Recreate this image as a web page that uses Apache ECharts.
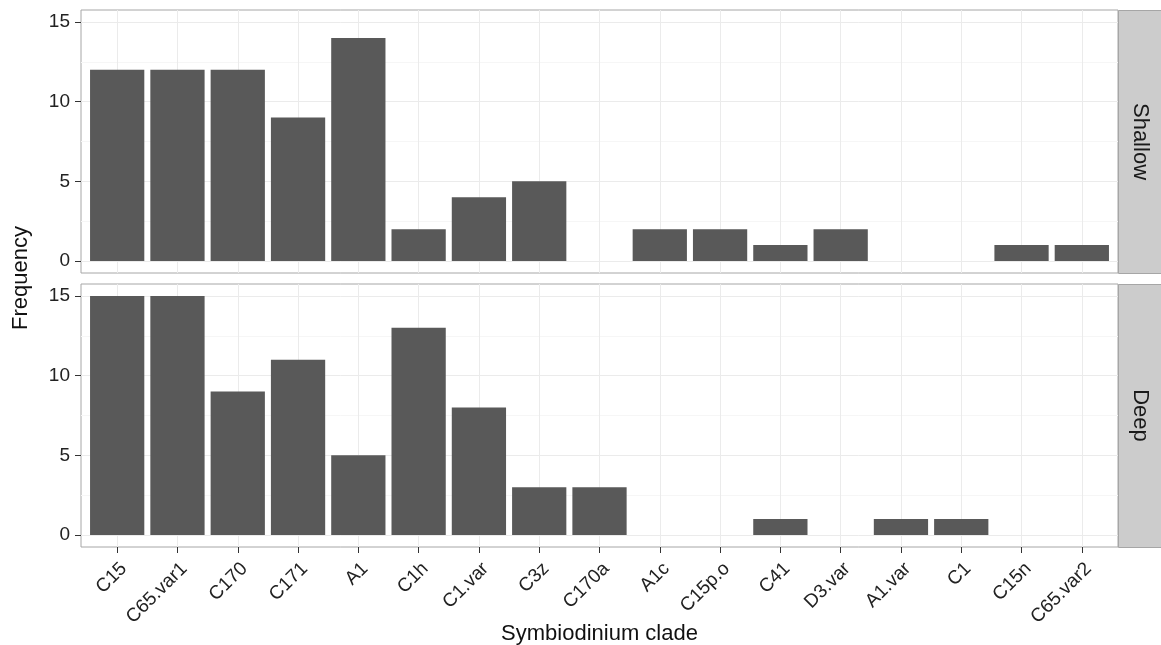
<!DOCTYPE html>
<html>
<head>
<meta charset="utf-8">
<script src="https://cdn.jsdelivr.net/npm/echarts@6/dist/echarts.min.js"></script>
<style>
html,body{margin:0;padding:0;background:#fff;}
#chart{width:1161px;height:645px;}
</style>
</head>
<body>
<div id="chart"></div>
<script>
const categories = ['C15','C65.var1','C170','C171','A1','C1h','C1.var','C3z','C170a','A1c','C15p.o','C41','D3.var','A1.var','C1','C15n','C65.var2'];
const shallow = [12,12,12,9,14,2,4,5,0,2,2,1,2,0,0,1,1];
const deep = [15,15,9,11,5,13,8,3,3,0,0,1,0,1,1,0,0];
const facets = ['Shallow','Deep'];
const yTicks = [0,5,10,15];
const yMinor = [2.5,7.5,12.5];
const xLabel = 'Symbiodinium clade';
const yLabel = 'Frequency';

const FONT = 'Liberation Sans';
const xPos = categories.map((c,i)=>i+1);
const panels = [shallow, deep];
const gridTops = [10, 284];
const H = 263, L = 81, W = 1037;

const grids = gridTops.map(t => ({left:L, top:t, width:W, height:H, show:true, outerBoundsMode:'none', containLabel:false,
  backgroundColor:'#fff', borderColor:'#a6a6a6', borderWidth:1}));

const xAxes = panels.map((p, gi) => ({
  type:'value', gridIndex:gi, min:0.4, max:17.6, position:'bottom',
  axisLine:{show:false, onZero:false},
  axisTick:{show: gi===1, customValues:xPos, length:6, lineStyle:{color:'#333'}},
  axisLabel:{show: gi===1, customValues:xPos, rotate:45, margin:12, verticalAlign:'top', fontFamily:FONT, fontSize:19, color:'#222',
    formatter: v => categories[Math.round(v)-1] || ''},
  splitLine:{show:true, lineStyle:{color:'#ebebeb', width:1}},
  name: gi===1 ? xLabel : '', nameLocation:'middle', nameGap:76, nameMoveOverlap:false,
  nameTextStyle:{fontFamily:FONT, fontSize:22, color:'#111'}
}));

const yAxes = [];
panels.forEach((p, gi) => {
  yAxes.push({
    type:'value', gridIndex:gi, min:-0.75, max:15.75,
    axisLine:{show:false, onZero:false},
    axisTick:{show:true, customValues:yTicks, length:6, lineStyle:{color:'#333'}},
    axisLabel:{customValues:yTicks, margin:11, fontFamily:FONT, fontSize:19, color:'#222'},
    splitLine:{show:true, lineStyle:{color:'#ebebeb', width:1}}
  });
});
panels.forEach((p, gi) => {
  yAxes.push({
    type:'value', gridIndex:gi, min:-0.75, max:15.75,
    axisLine:{show:false, onZero:false},
    axisTick:{show:false, customValues:yMinor},
    axisLabel:{show:false, customValues:yMinor},
    splitLine:{show:true, lineStyle:{color:'#f6f6f6', width:1}}
  });
});

const series = panels.map((vals, gi) => ({
  type:'bar', xAxisIndex:gi, yAxisIndex:gi, barWidth:'90%',
  itemStyle:{color:'#595959'},
  data: vals.map((v,i)=>[xPos[i], v])
}));

const graphics = [];
facets.forEach((f, gi) => {
  graphics.push({type:'rect', left:L+W, top:gridTops[gi], shape:{width:43, height:H},
    style:{fill:'#cccccc', stroke:'#a6a6a6', lineWidth:1}, z:10});
  graphics.push({type:'text', x:1140, y:gridTops[gi]+H/2, rotation:-Math.PI/2,
    style:{text:f, fontFamily:FONT, fontSize:22, fill:'#1a1a1a', align:'center', verticalAlign:'middle'}, z:11});
});
graphics.push({type:'text', x:21, y:278, rotation:Math.PI/2,
  style:{text:yLabel, fontFamily:FONT, fontSize:22, fill:'#111', align:'center', verticalAlign:'middle'}});

const chart = echarts.init(document.getElementById('chart'), null, {renderer:'canvas'});
chart.setOption({
  animation:false,
  backgroundColor:'#fff',
  grid: grids,
  xAxis: xAxes,
  yAxis: yAxes,
  series: series,
  graphic: graphics
});
</script>
</body>
</html>
